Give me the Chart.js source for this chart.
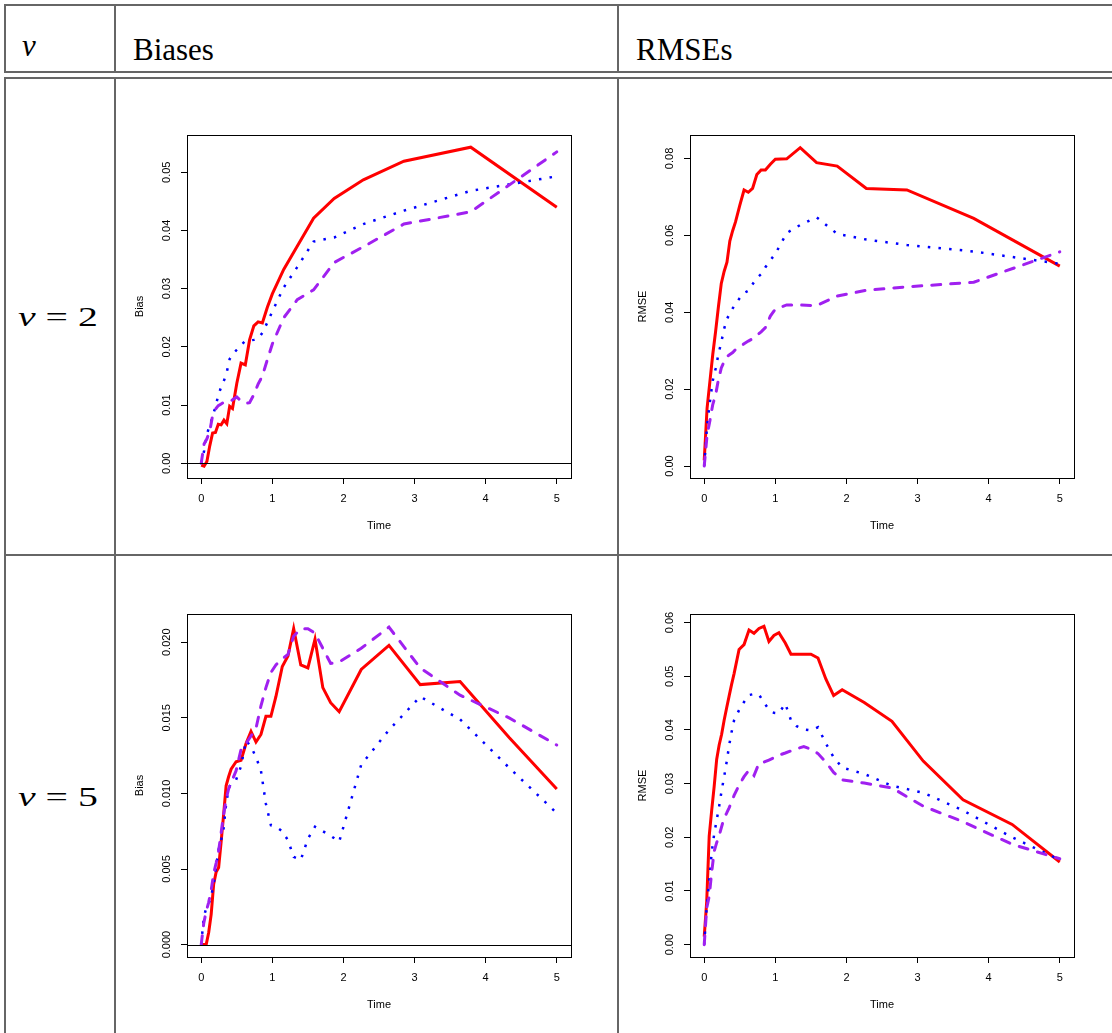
<!DOCTYPE html>
<html>
<head>
<meta charset="utf-8">
<title>Biases and RMSEs</title>
<script src="https://cdn.jsdelivr.net/npm/chart.js@4.4.1/dist/chart.umd.min.js"></script>
<style>
  html, body { margin: 0; padding: 0; background: #fff; }
  body { position: relative; width: 1112px; height: 1033px; overflow: hidden; font-family: "Liberation Serif", "Times New Roman", serif; }
  .hl { position: absolute; height: 2px; background: #666; }
  .vl { position: absolute; width: 2px; background: #666; }
  .tx { position: absolute; font-size: 31px; line-height: 31px; color: #000; white-space: nowrap; }
  .row { position: absolute; font-size: 28px; line-height: 28px; color: #000; white-space: nowrap;
         transform: scaleX(1.42); transform-origin: left center; }
  .panel { position: absolute; }
</style>
</head>
<body>

<!-- table rules -->
<div class="hl" style="left:5px; top:4px; width:1107px;"></div>
<div class="hl" style="left:5px; top:71px; width:1107px;"></div>
<div class="hl" style="left:5px; top:77px; width:1107px;"></div>
<div class="hl" style="left:5px; top:554px; width:1107px;"></div>
<div class="vl" style="left:4px; top:4px; height:69px;"></div>
<div class="vl" style="left:114px; top:4px; height:69px;"></div>
<div class="vl" style="left:617px; top:4px; height:69px;"></div>
<div class="vl" style="left:4px; top:77px; height:956px;"></div>
<div class="vl" style="left:114px; top:77px; height:956px;"></div>
<div class="vl" style="left:617px; top:77px; height:956px;"></div>

<!-- header and row labels -->
<div class="tx" style="left:22px; top:30px;"><i>&#957;</i></div>
<div class="tx" style="left:133px; top:34px;">Biases</div>
<div class="tx" style="left:636px; top:34px;">RMSEs</div>
<div class="row" style="left:18px; top:303px;"><i>&#957;</i> = 2</div>
<div class="row" style="left:18px; top:783px;"><i>&#957;</i> = 5</div>

<canvas id="biasNu2" class="panel" width="476" height="428" style="left:125px; top:120px;"></canvas>
<canvas id="rmseNu2" class="panel" width="476" height="428" style="left:628px; top:120px;"></canvas>
<canvas id="biasNu5" class="panel" width="476" height="428" style="left:125px; top:599px;"></canvas>
<canvas id="rmseNu5" class="panel" width="476" height="428" style="left:628px; top:599px;"></canvas>

<script>
/*---------------------------------------------------
  Data
---------------------------------------------------*/
const timeTicks = [0, 1, 2, 3, 4, 5];

const nu2Time = [0, 0.04, 0.08, 0.12, 0.16, 0.20, 0.24, 0.28, 0.32, 0.36, 0.40, 0.44, 0.50, 0.56, 0.62,
  0.68, 0.74, 0.80, 0.86, 0.93, 1.00, 1.16, 1.35, 1.58, 1.87, 2.28, 2.85, 3.79, 5.00];

const nu2BiasSolid = [-0.0003, -0.0005, 0.0003, 0.0030, 0.0052, 0.0053, 0.0067, 0.0066, 0.0074, 0.0068, 0.0098,
  0.0094, 0.0137, 0.0172, 0.0169, 0.0212, 0.0236, 0.0243, 0.0241, 0.0268, 0.0291, 0.0333, 0.0373, 0.0421,
  0.0455, 0.0487, 0.0519, 0.0543, 0.0440];
const nu2BiasDotted = [0, 0.0021, 0.0050, 0.0065, 0.0080, 0.0097, 0.0117, 0.0131, 0.0142, 0.0157, 0.0179,
  0.0187, 0.0195, 0.0203, 0.0210, 0.0211, 0.0212, 0.0214, 0.0224, 0.0242, 0.0261, 0.0302, 0.0337, 0.0381,
  0.0388, 0.0411, 0.0434, 0.0468, 0.0493];
const nu2BiasDashed = [0, 0.0033, 0.0042, 0.0055, 0.0082, 0.0093, 0.0099, 0.0102, 0.0105, 0.0106, 0.0106,
  0.0109, 0.0114, 0.0107, 0.0103, 0.0104, 0.0118, 0.0136, 0.0150, 0.0178, 0.0205, 0.0250, 0.0281, 0.0298,
  0.0345, 0.0372, 0.0411, 0.0432, 0.0535];

const nu2RmseSolid = [0.0015, 0.0150, 0.0220, 0.0290, 0.0350, 0.0415, 0.0475, 0.0506, 0.0530, 0.0585, 0.0612,
  0.0635, 0.0678, 0.0718, 0.0712, 0.0722, 0.0758, 0.0770, 0.0770, 0.0785, 0.0798, 0.0799, 0.0828, 0.0789,
  0.0780, 0.0722, 0.0718, 0.0644, 0.0520];
const nu2RmseDotted = [0, 0.0105, 0.0167, 0.0222, 0.0253, 0.0291, 0.0322, 0.0357, 0.0382, 0.0398, 0.0410,
  0.0421, 0.0437, 0.0450, 0.0456, 0.0473, 0.0489, 0.0499, 0.0517, 0.0535, 0.0552, 0.0606, 0.0627, 0.0647,
  0.0604, 0.0589, 0.0575, 0.0558, 0.0526];
const nu2RmseDashed = [0, 0.0080, 0.0118, 0.0160, 0.0185, 0.0225, 0.0255, 0.0272, 0.0285, 0.0290, 0.0295,
  0.0303, 0.0310, 0.0318, 0.0325, 0.0331, 0.0340, 0.0349, 0.0360, 0.0390, 0.0408, 0.0419, 0.0419, 0.0417,
  0.0442, 0.0457, 0.0466, 0.0478, 0.0557];

const nu5Time = [0, 0.035, 0.07, 0.105, 0.14, 0.175, 0.21, 0.245, 0.28, 0.315, 0.35, 0.385, 0.42, 0.49, 0.56,
  0.63, 0.70, 0.77, 0.84, 0.91, 0.98, 1.05, 1.14, 1.22, 1.30, 1.40, 1.50, 1.60, 1.71, 1.82, 1.94, 2.25, 2.64,
  3.08, 3.64, 4.33, 5.00];

const nu5BiasSolid = [0, 0, 0, 0.0008, 0.0020, 0.0040, 0.0048, 0.0051, 0.0068, 0.0086, 0.0105, 0.0111, 0.0116,
  0.0121, 0.0122, 0.0133, 0.0141, 0.0134, 0.0139, 0.0151, 0.0151, 0.0164, 0.0184, 0.0191, 0.0209, 0.0185,
  0.0183, 0.0202, 0.0170, 0.0160, 0.0154, 0.0182, 0.0198, 0.0172, 0.0174, 0.0137, 0.0103];
const nu5BiasDotted = [0, 0.0018, 0.0024, 0.0027, 0.0032, 0.0040, 0.0052, 0.0063, 0.0069, 0.0077, 0.0093,
  0.0103, 0.0107, 0.0109, 0.0118, 0.0135, 0.0131, 0.0124, 0.0115, 0.0093, 0.0079, 0.0078, 0.0075, 0.0069,
  0.0058, 0.0056, 0.0070, 0.0078, 0.0075, 0.0072, 0.0068, 0.0119, 0.0142, 0.0164, 0.0149, 0.0117, 0.0087];
const nu5BiasDashed = [0, 0.0014, 0.0022, 0.0028, 0.0036, 0.0047, 0.0054, 0.0062, 0.0074, 0.0086, 0.0096,
  0.0103, 0.0107, 0.0115, 0.0129, 0.0133, 0.0138, 0.0143, 0.0158, 0.0170, 0.0180, 0.0185, 0.0189, 0.0192,
  0.0204, 0.0209, 0.0209, 0.0206, 0.0196, 0.0186, 0.0187, 0.0196, 0.0210, 0.0183, 0.0165, 0.0150, 0.0132];

const nu5RmseSolid = [0.0015, 0.0080, 0.0202, 0.0250, 0.0295, 0.0345, 0.0372, 0.0392, 0.0418, 0.0441, 0.0463,
  0.0485, 0.0505, 0.0550, 0.0559, 0.0586, 0.0580, 0.0589, 0.0593, 0.0565, 0.0576, 0.0581, 0.0562, 0.0541,
  0.0541, 0.0541, 0.0541, 0.0534, 0.0495, 0.0464, 0.0475, 0.0451, 0.0416, 0.0342, 0.0270, 0.0224, 0.0154];
const nu5RmseDotted = [0, 0.0070, 0.0118, 0.0172, 0.0206, 0.0232, 0.0258, 0.0287, 0.0313, 0.0340, 0.0371,
  0.0396, 0.0418, 0.0437, 0.0452, 0.0465, 0.0467, 0.0466, 0.0451, 0.0438, 0.0432, 0.0431, 0.0449, 0.0418,
  0.0407, 0.0401, 0.0399, 0.0405, 0.0375, 0.0349, 0.0330, 0.0318, 0.0296, 0.0283, 0.0250, 0.0200, 0.0158];
const nu5RmseDashed = [0, 0.0068, 0.0090, 0.0135, 0.0174, 0.0190, 0.0203, 0.0220, 0.0236, 0.0245, 0.0255,
  0.0266, 0.0278, 0.0297, 0.0313, 0.0325, 0.0315, 0.0338, 0.0340, 0.0344, 0.0348, 0.0353, 0.0357, 0.0361,
  0.0365, 0.0369, 0.0364, 0.0356, 0.0340, 0.0321, 0.0307, 0.0301, 0.0292, 0.0258, 0.0229, 0.0187, 0.0160];

const nu2BiasTicks = [0, 0.01, 0.02, 0.03, 0.04, 0.05];
const nu2RmseTicks = [0, 0.02, 0.04, 0.06, 0.08];
const nu5BiasTicks = [0, 0.005, 0.010, 0.015, 0.020];
const nu5RmseTicks = [0, 0.01, 0.02, 0.03, 0.04, 0.05, 0.06];

/*---------------------------------------------------
  Helpers
---------------------------------------------------*/
var axisFont = { family: "'Liberation Sans', Arial, sans-serif", size: 11 };

function points(times, values) {
  return times.map(function (t, i) { return { x: t, y: values[i] }; });
}

function asTicks(list) {
  return list.map(function (v) { return { value: v }; });
}

// box around the plot region, plus the abline(h = 0) on the bias panels
var frame = {
  id: 'frame',
  afterDatasetsDraw: function (chart, args, opts) {
    var ctx = chart.ctx;
    var a = chart.chartArea;
    ctx.save();
    ctx.strokeStyle = '#000';
    ctx.lineWidth = 1;
    if (opts.zeroLine) {
      var y0 = Math.round(chart.scales.y.getPixelForValue(0)) + 0.5;
      ctx.beginPath();
      ctx.moveTo(a.left, y0);
      ctx.lineTo(a.right, y0);
      ctx.stroke();
    }
    ctx.strokeRect(Math.round(a.left) + 0.5, Math.round(a.top) + 0.5,
      Math.round(a.right - a.left), Math.round(a.bottom - a.top));
    ctx.restore();
  }
};

function drawPanel(id, times, solid, dotted, dashed, yTicks, yMin, yMax, digits, yTitle, zeroLine) {
  return new Chart(document.getElementById(id), {
    type: 'line',
    data: {
      datasets: [
        { data: points(times, solid), borderColor: '#ff0000', borderWidth: 3, order: 3 },
        { data: points(times, dotted), borderColor: '#0000ff', borderWidth: 2.5, borderDash: [2.5, 8.2],
          borderCapStyle: 'butt', order: 2 },
        { data: points(times, dashed), borderColor: '#a020f0', borderWidth: 3, borderDash: [9, 10],
          borderCapStyle: 'round', order: 1 }
      ]
    },
    options: {
      responsive: false,
      animation: false,
      devicePixelRatio: 1,
      layout: { padding: { left: 0, top: 15, right: 30, bottom: 0 } },
      elements: { point: { radius: 0 }, line: { tension: 0, fill: false } },
      plugins: {
        legend: { display: false },
        tooltip: { enabled: false },
        frame: { zeroLine: zeroLine }
      },
      scales: {
        x: {
          type: 'linear',
          min: -0.2,
          max: 5.2,
          afterBuildTicks: function (s) { s.ticks = asTicks(timeTicks); },
          afterFit: function (s) { s.height = 70; },
          grid: { drawOnChartArea: false, drawTicks: true, tickLength: 6, color: '#000' },
          border: { display: false },
          ticks: { color: '#000', font: axisFont, padding: 8, maxRotation: 0, autoSkip: false,
            callback: function (v) { return String(v); } },
          title: { display: true, text: 'Time', color: '#000', font: axisFont, padding: { top: 0, bottom: 15.4 } }
        },
        y: {
          type: 'linear',
          min: yMin,
          max: yMax,
          afterBuildTicks: function (s) { s.ticks = asTicks(yTicks); },
          afterFit: function (s) { s.width = 62; },
          grid: { drawOnChartArea: false, drawTicks: true, tickLength: 6, color: '#000' },
          border: { display: false },
          ticks: { color: '#000', font: axisFont, padding: digits === 3 ? 0.5 : 3.5, minRotation: 90, maxRotation: 90,
            crossAlign: 'center', autoSkip: false,
            callback: function (v) { return v.toFixed(digits); } },
          title: { display: true, text: yTitle, color: '#000', font: axisFont, padding: { top: 8.4, bottom: 0 } }
        }
      }
    },
    plugins: [frame]
  });
}

/*---------------------------------------------------
  Panels
---------------------------------------------------*/
drawPanel('biasNu2', nu2Time, nu2BiasSolid, nu2BiasDotted, nu2BiasDashed, nu2BiasTicks, -0.00253, 0.0564, 2, 'Bias', true);
drawPanel('rmseNu2', nu2Time, nu2RmseSolid, nu2RmseDotted, nu2RmseDashed, nu2RmseTicks, -0.00312, 0.0861, 2, 'RMSE', false);
drawPanel('biasNu5', nu5Time, nu5BiasSolid, nu5BiasDotted, nu5BiasDashed, nu5BiasTicks, -0.00082, 0.02187, 3, 'Bias', true);
drawPanel('rmseNu5', nu5Time, nu5RmseSolid, nu5RmseDotted, nu5RmseDashed, nu5RmseTicks, -0.0023, 0.0616, 2, 'RMSE', false);
</script>
</body>
</html>
